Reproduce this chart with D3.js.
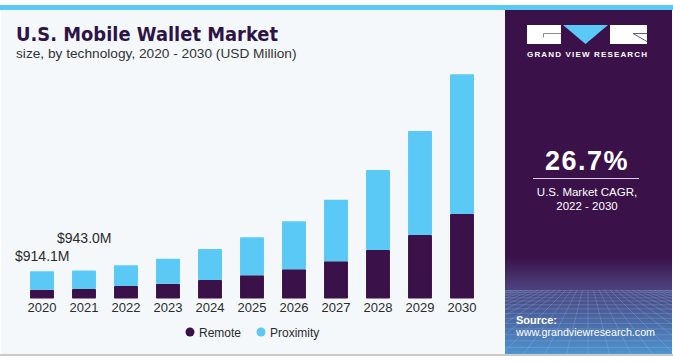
<!DOCTYPE html>
<html>
<head>
<meta charset="utf-8">
<script src="https://cdn.jsdelivr.net/npm/d3@7"></script>
<style>
  body { margin: 0; background: #ffffff; }
  svg { display: block; font-family: "Liberation Sans", Arial, sans-serif; }
  .note { font-size: 14px; fill: #2b2b2b; }
  .legend { font-size: 12px; fill: #2b2b2b; }
</style>
</head>
<body>
<svg width="673" height="362"></svg>
<script>
// **** Data ****
var years = ["2020", "2021", "2022", "2023", "2024", "2025", "2026", "2027", "2028", "2029", "2030"];
var remote = [296, 320, 420, 497, 622, 780, 981, 1250, 1630, 2134, 2840];
var proximity = [618, 623, 695, 840, 1041, 1276, 1613, 2070, 2688, 3494, 4693];
var series = ["Remote", "Proximity"];
var colors = ["#3a1249", "#5bc9f6"];
var callouts = [{ year: "2020", text: "$914.1M" }, { year: "2021", text: "$943.0M" }];

var svg = d3.select("svg");

// **** Background, frame and side panel ****
svg.append("rect").attr("x", 0).attr("y", 0).attr("width", 673).attr("height", 362).attr("fill", "#ffffff");
svg.append("rect").attr("x", 1).attr("y", 10).attr("width", 504).attr("height", 344).attr("fill", "#f4f8fb");
svg.append("rect").attr("x", 0).attr("y", 5).attr("width", 673).attr("height", 5).attr("fill", "#5bc9f6");
svg.append("rect").attr("x", 0).attr("y", 354).attr("width", 673).attr("height", 2).attr("fill", "#c9c9c9");

var defs = svg.append("defs");
var grad = defs.append("linearGradient").attr("id", "panelGrad")
    .attr("x1", 0).attr("y1", 0).attr("x2", 0).attr("y2", 1);
grad.append("stop").attr("offset", "0%").attr("stop-color", "#3a1249");
grad.append("stop").attr("offset", "72%").attr("stop-color", "#3a1249");
grad.append("stop").attr("offset", "80%").attr("stop-color", "#4a3d78");
grad.append("stop").attr("offset", "100%").attr("stop-color", "#4d93cf");

svg.append("rect").attr("x", 505).attr("y", 10).attr("width", 167).attr("height", 344).attr("fill", "url(#panelGrad)");

// perspective grid at the bottom of the panel
var clip = defs.append("clipPath").attr("id", "gridClip");
clip.append("rect").attr("x", 505).attr("y", 290).attr("width", 167).attr("height", 64);
var grid = svg.append("g").attr("clip-path", "url(#gridClip)")
    .attr("stroke", "#9fc4ea").attr("stroke-opacity", 0.35).attr("stroke-width", 0.7).attr("fill", "none");
d3.range(0, 16).forEach(function (i) {
    var y = 290 + Math.pow(i / 15, 1.6) * 64;
    grid.append("line").attr("x1", 505).attr("x2", 672).attr("y1", y).attr("y2", y);
});
d3.range(-20, 21).forEach(function (i) {
    grid.append("line").attr("x1", 588 + i * 5).attr("y1", 288).attr("x2", 588 + i * 22).attr("y2", 356);
});

// **** Title ****
svg.append("text").attr("x", 16).attr("y", 41)
    .style("font-size", "20px").style("font-weight", "900").style("fill", "#2e1347")
    .style("font-family", "'DejaVu Sans', sans-serif")
    .attr("textLength", 262).attr("lengthAdjust", "spacingAndGlyphs")
    .text("U.S. Mobile Wallet Market");
svg.append("text").attr("x", 16).attr("y", 58)
    .style("font-size", "13.7px").style("fill", "#333333")
    .text("size, by technology, 2020 - 2030 (USD Million)");

// **** Scales ****
var x = d3.scaleBand().domain(years).range([21, 483]).paddingInner(0.43).paddingOuter(0.215);
var y = d3.scaleLinear().domain([0, 8000]).range([298.5, 60.4]);

var table = years.map(function (yr, i) {
    return { year: yr, Remote: remote[i], Proximity: proximity[i] };
});
var stacked = d3.stack().keys(series)(table);

var layers = svg.append("g").selectAll("g").data(stacked).enter().append("g")
    .attr("fill", function (d, i) { return colors[i]; });
layers.selectAll("rect").data(function (d) { return d; }).enter().append("rect")
    .attr("x", function (d) { return x(d.data.year); })
    .attr("width", x.bandwidth())
    .attr("y", function (d) { return y(d[1]); })
    .attr("height", function (d) { return y(d[0]) - y(d[1]); })
    .attr("rx", 0.8);

// **** X axis labels ****
var xAxis = svg.append("g").attr("transform", "translate(0,299)")
    .call(d3.axisBottom(x).tickSize(0).tickPadding(4));
xAxis.select(".domain").remove();
xAxis.selectAll("text").style("font-size", "13px").style("fill", "#2b2b2b")
    .style("font-family", "'Liberation Sans', Arial, sans-serif");

// **** Callouts ****
svg.append("text").attr("class", "note").attr("x", 15).attr("y", 261).text(callouts[0].text);
svg.append("text").attr("class", "note").attr("x", 57).attr("y", 243).text(callouts[1].text);

// **** Legend ****
var legend = svg.append("g");
var legendX = [190, 261];
series.forEach(function (s, i) {
    legend.append("circle").attr("cx", legendX[i]).attr("cy", 332).attr("r", 4.5).attr("fill", colors[i]);
    legend.append("text").attr("class", "legend").attr("x", legendX[i] + 9).attr("y", 336.5).text(s);
});

// **** Logo ****
var logo = svg.append("g");
logo.append("rect").attr("x", 527).attr("y", 25).attr("width", 34).attr("height", 19).attr("fill", "#ffffff");
logo.append("path").attr("d", "M563,25 L608,25 L585.5,44 Z").attr("fill", "#5bc9f6");
logo.append("rect").attr("x", 610).attr("y", 25).attr("width", 37).attr("height", 19).attr("fill", "#ffffff");
logo.append("path").attr("d", "M543.5,37.5 L543.5,33.5 L561,33.5").attr("stroke", "#8a8a9a").attr("stroke-width", 1).attr("fill", "none");
logo.append("path").attr("d", "M633,33.5 L647,33.5 M633,33.5 L647,41.5").attr("stroke", "#6a5a80").attr("stroke-width", 1).attr("fill", "none");
logo.append("text").attr("x", 527).attr("y", 57)
    .style("font-size", "8px").style("font-weight", "bold").style("fill", "#ffffff")
    .attr("textLength", 120).attr("lengthAdjust", "spacing")
    .text("GRAND VIEW RESEARCH");

// **** CAGR ****
svg.append("text").attr("x", 587).attr("y", 170).attr("text-anchor", "middle")
    .style("font-size", "27px").style("font-weight", "bold").style("fill", "#ffffff")
    .style("letter-spacing", "1.5px").text("26.7%");
svg.append("line").attr("x1", 533).attr("x2", 639).attr("y1", 178.5).attr("y2", 178.5)
    .attr("stroke", "#d8d0e0").attr("stroke-width", 1);
svg.append("text").attr("x", 587).attr("y", 196).attr("text-anchor", "middle")
    .style("font-size", "11.5px").style("fill", "#ffffff").text("U.S. Market CAGR,");
svg.append("text").attr("x", 587).attr("y", 210).attr("text-anchor", "middle")
    .style("font-size", "11.5px").style("fill", "#ffffff").text("2022 - 2030");

// **** Source ****
svg.append("text").attr("x", 516).attr("y", 324)
    .style("font-size", "11px").style("font-weight", "bold").style("fill", "#ffffff").text("Source:");
svg.append("text").attr("x", 516).attr("y", 336)
    .style("font-size", "10.7px").style("fill", "#ffffff").text("www.grandviewresearch.com");
</script>
</body>
</html>
